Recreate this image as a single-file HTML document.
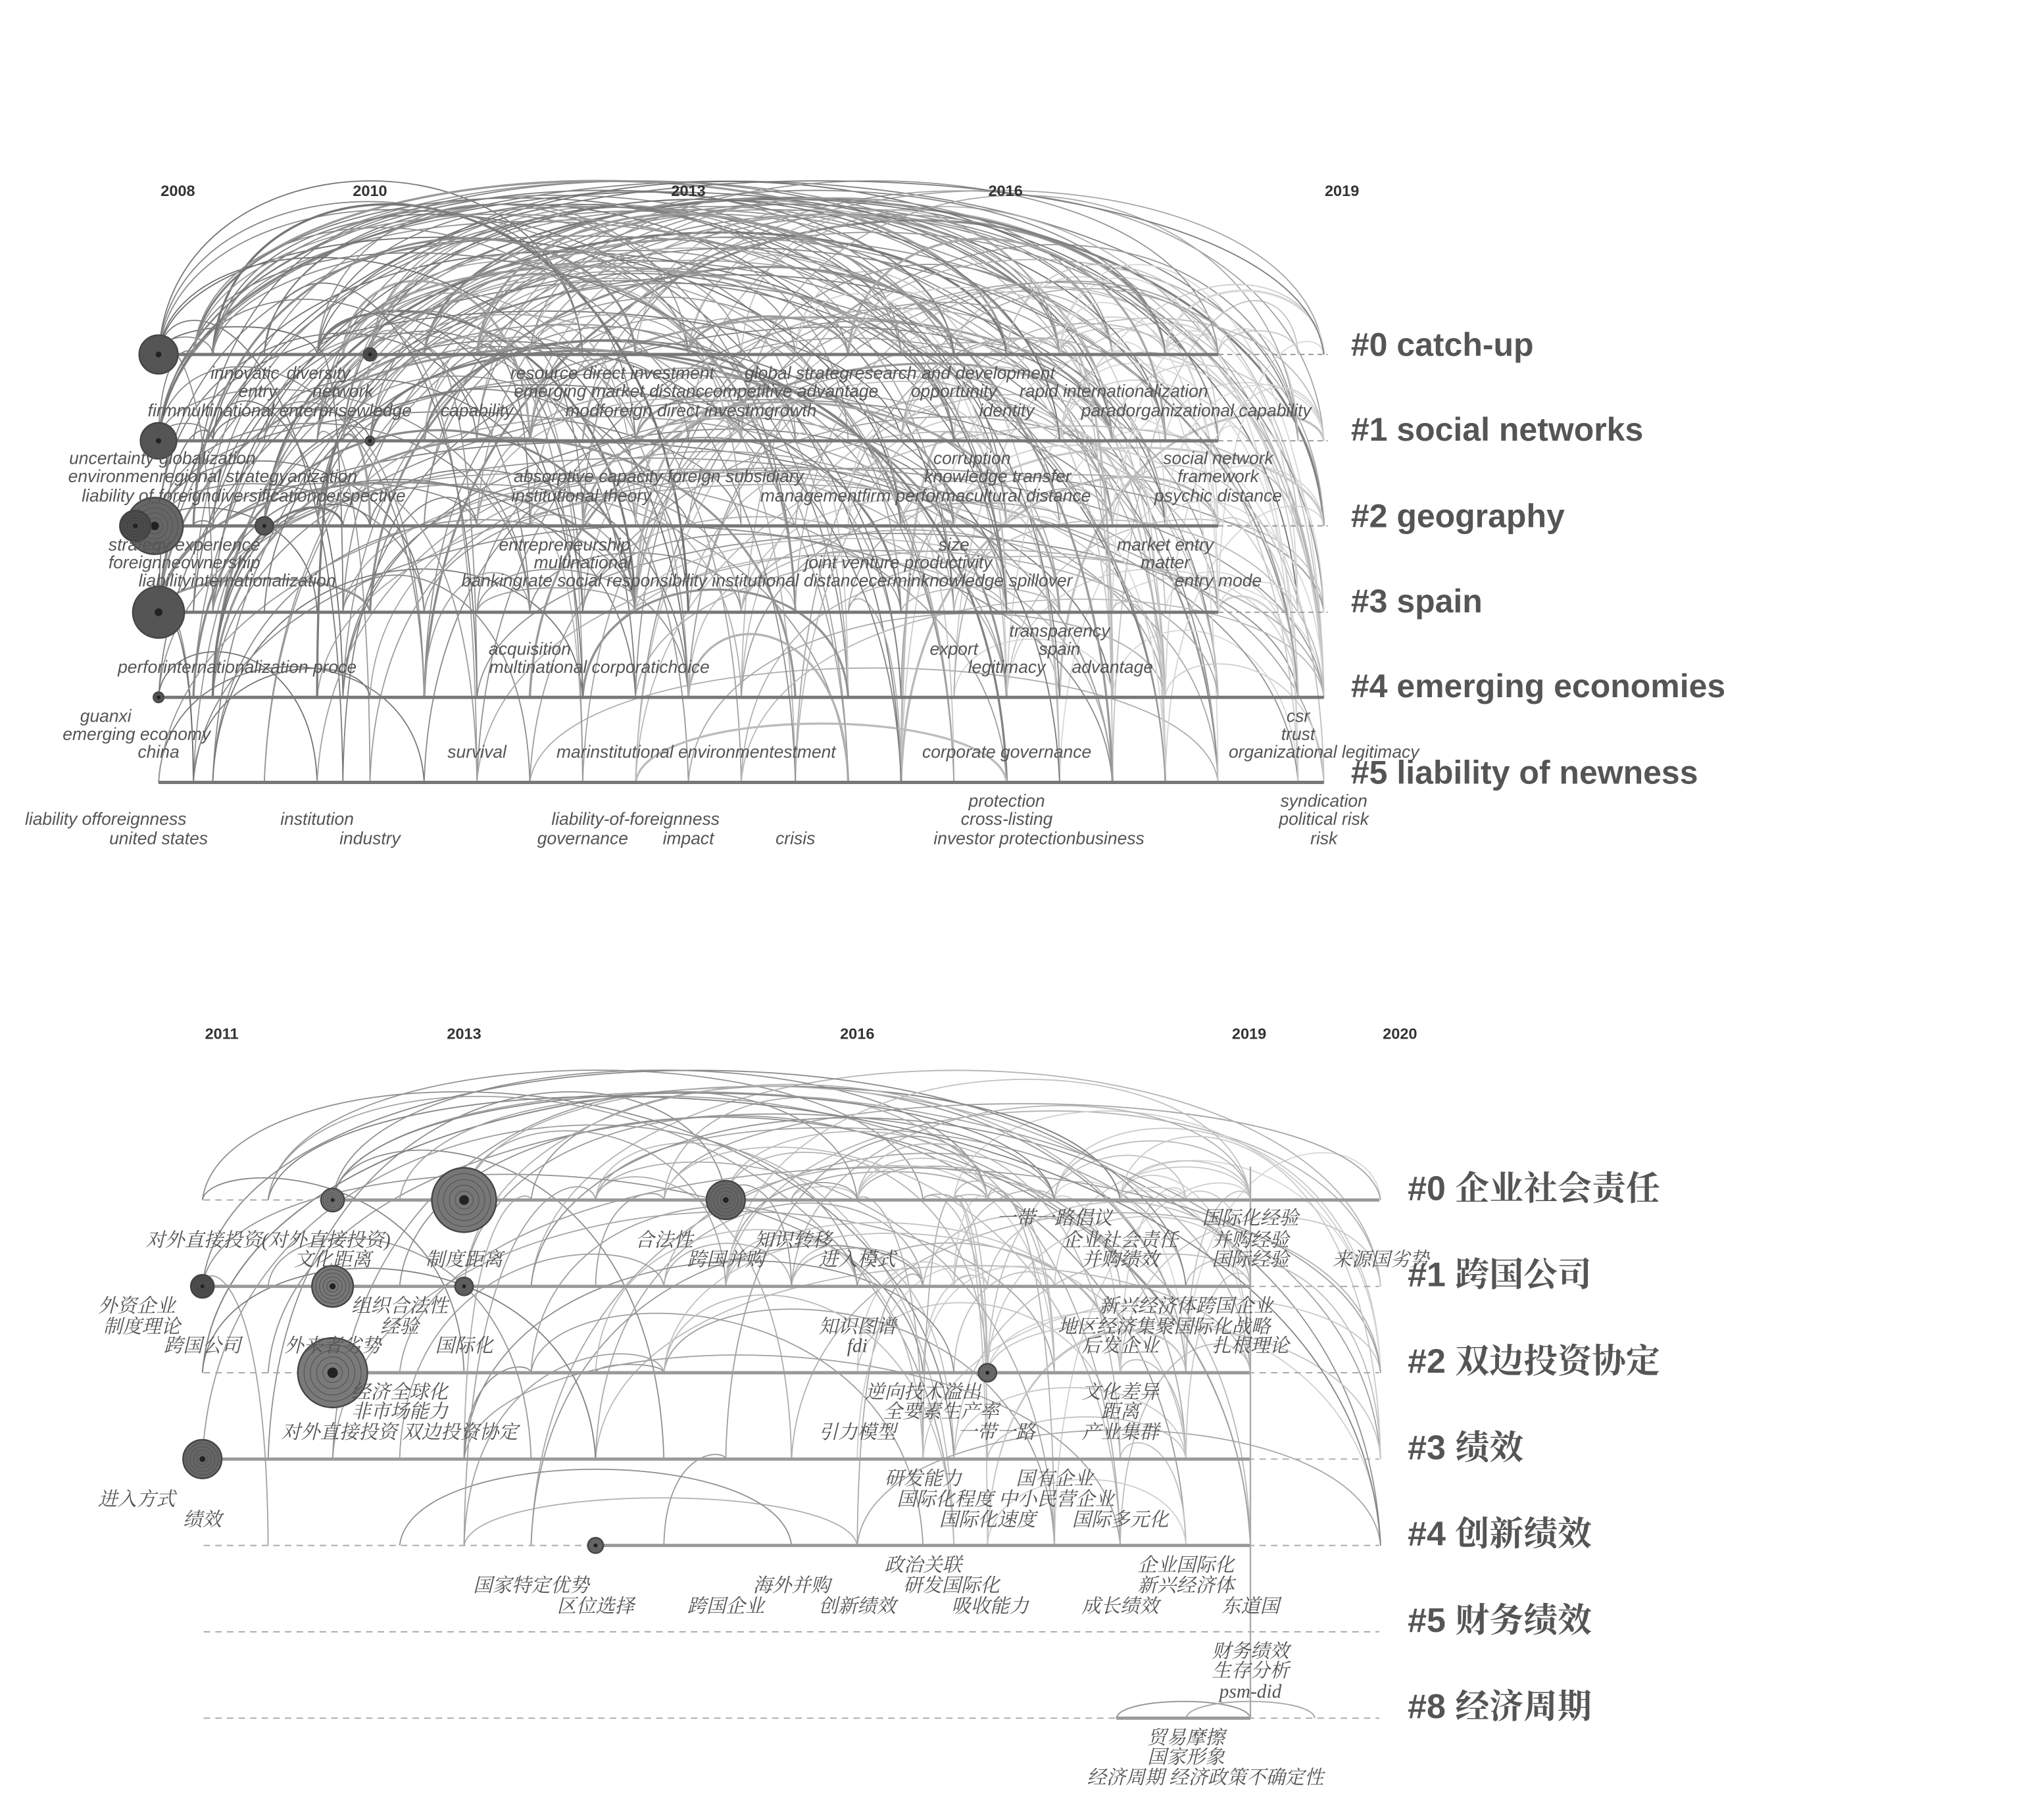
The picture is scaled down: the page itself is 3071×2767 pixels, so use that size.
<!DOCTYPE html>
<html><head><meta charset="utf-8">
<style>
html,body{margin:0;padding:0;background:#fff;}
svg{display:block;}
.y{font-family:"Liberation Sans",sans-serif;font-weight:bold;font-size:12px;fill:#333;text-anchor:middle;}
.t{font-family:"Liberation Sans",sans-serif;font-style:italic;font-size:13.5px;fill:#555;text-anchor:middle;}
.c{font-family:"Liberation Serif","Noto Serif CJK SC",serif;font-style:italic;font-size:15px;fill:#555;text-anchor:middle;}
.L{font-family:"Liberation Sans",sans-serif;font-weight:bold;font-size:25.5px;fill:#555;}
.LC{font-family:"Liberation Sans","Noto Serif CJK SC",serif;font-weight:bold;font-size:26.5px;fill:#555;}
</style></head>
<body>
<svg id="s" width="3071" height="2767" viewBox="0 0 1567 1412" preserveAspectRatio="none" xmlns="http://www.w3.org/2000/svg">
<g id="arcs" fill="none"></g>
<g stroke="#777" stroke-width="2.5">
<line x1="123" y1="275" x2="945" y2="275"/>
<line x1="123" y1="342" x2="945" y2="342"/>
<line x1="123" y1="408" x2="945" y2="408"/>
<line x1="123" y1="475" x2="945" y2="475"/>
<line x1="123" y1="541" x2="1027" y2="541"/>
<line x1="123" y1="607" x2="1027" y2="607"/>
</g>
<g stroke="#999" stroke-width="1" stroke-dasharray="4,3">
<line x1="945" y1="275" x2="1030" y2="275"/>
<line x1="945" y1="342" x2="1030" y2="342"/>
<line x1="945" y1="408" x2="1030" y2="408"/>
<line x1="945" y1="475" x2="1030" y2="475"/>
</g>
<g stroke="#aaa" stroke-width="1" stroke-dasharray="5,4">
<line x1="158" y1="931" x2="1070" y2="931"/>
<line x1="158" y1="998" x2="1070" y2="998"/>
<line x1="158" y1="1065" x2="1070" y2="1065"/>
<line x1="158" y1="1132" x2="1070" y2="1132"/>
<line x1="158" y1="1199" x2="1070" y2="1199"/>
<line x1="158" y1="1266" x2="1070" y2="1266"/>
<line x1="158" y1="1333" x2="1070" y2="1333"/>
</g>
<g stroke="#999" stroke-width="2.5">
<line x1="258" y1="931" x2="1070" y2="931"/>
<line x1="157" y1="998" x2="970" y2="998"/>
<line x1="258" y1="1065" x2="970" y2="1065"/>
<line x1="157" y1="1132" x2="970" y2="1132"/>
<line x1="462" y1="1199" x2="970" y2="1199"/>
<line x1="866" y1="1333" x2="970" y2="1333"/>
</g>
<line x1="970" y1="905" x2="970" y2="1333" stroke="#aaa" stroke-width="1.2"/>
<g id="nodes"></g>
<text class="y" x="138" y="152">2008</text><text class="y" x="287" y="152">2010</text><text class="y" x="534" y="152">2013</text><text class="y" x="780" y="152">2016</text><text class="y" x="1041" y="152">2019</text>
<text class="y" x="172" y="806">2011</text><text class="y" x="360" y="806">2013</text><text class="y" x="665" y="806">2016</text><text class="y" x="969" y="806">2019</text><text class="y" x="1086" y="806">2020</text>
<text class="L" x="1048" y="276">#0 catch-up</text>
<text class="L" x="1048" y="342">#1 social networks</text>
<text class="L" x="1048" y="409">#2 geography</text>
<text class="L" x="1048" y="475">#3 spain</text>
<text class="L" x="1048" y="541">#4 emerging economies</text>
<text class="L" x="1048" y="608">#5 liability of newness</text>
<text class="LC" x="1092" y="931">#0 企业社会责任</text>
<text class="LC" x="1092" y="998">#1 跨国公司</text>
<text class="LC" x="1092" y="1065">#2 双边投资协定</text>
<text class="LC" x="1092" y="1132">#3 绩效</text>
<text class="LC" x="1092" y="1199">#4 创新绩效</text>
<text class="LC" x="1092" y="1266">#5 财务绩效</text>
<text class="LC" x="1092" y="1333">#8 经济周期</text>
<g>
<text class="t" x="190" y="294">innovatic</text><text class="t" x="247" y="294">diversity</text>
<text class="t" x="200" y="308">entry</text><text class="t" x="266" y="308">network</text>
<text class="t" x="217" y="323">firmmultinational enterprisewledge</text><text class="t" x="370" y="323">capability</text>
<text class="t" x="475" y="294">resource direct investment</text><text class="t" x="698" y="294">global strategresearch and development</text>
<text class="t" x="540" y="308">emerging market distanccompetitive advantage</text><text class="t" x="740" y="308">opportunity</text><text class="t" x="864" y="308">rapid internationalization</text>
<text class="t" x="536" y="323">modforeign direct investmgrowth</text><text class="t" x="781" y="323">identity</text><text class="t" x="928" y="323">paradorganizational capability</text>
<text class="t" x="126" y="360">uncertainty globalization</text><text class="t" x="165" y="374">environmenregional strategyanization</text><text class="t" x="189" y="389">liability of foreigndiversificationperspective</text>
<text class="t" x="511" y="374">absorptive capacity foreign subsidiary</text><text class="t" x="451" y="389">institutional theory</text>
<text class="t" x="754" y="360">corruption</text><text class="t" x="774" y="374">knowledge transfer</text><text class="t" x="718" y="389">managementfirm performacultural distance</text>
<text class="t" x="945" y="360">social network</text><text class="t" x="945" y="374">framework</text><text class="t" x="945" y="389">psychic distance</text>
<text class="t" x="143" y="427">strategy experience</text><text class="t" x="143" y="441">foreignneownership</text><text class="t" x="184" y="455">liabilityinternationalization</text>
<text class="t" x="438" y="427">entrepreneurship</text><text class="t" x="452" y="441">multinational</text>
<text class="t" x="595" y="455">bankingrate social responsibility institutional distancecerminknowledge spillover</text>
<text class="t" x="740" y="427">size</text><text class="t" x="697" y="441">joint venture productivity</text>
<text class="t" x="904" y="427">market entry</text><text class="t" x="904" y="441">matter</text><text class="t" x="945" y="455">entry mode</text>
<text class="t" x="184" y="522">perforinternationalization proce</text><text class="t" x="411" y="508">acquisition</text><text class="t" x="465" y="522">multinational corporatichoice</text>
<text class="t" x="822" y="494">transparency</text><text class="t" x="740" y="508">export</text><text class="t" x="822" y="508">spain</text><text class="t" x="781" y="522">legitimacy</text><text class="t" x="863" y="522">advantage</text>
<text class="t" x="82" y="560">guanxi</text><text class="t" x="106" y="574">emerging economy</text><text class="t" x="123" y="588">china</text>
<text class="t" x="370" y="588">survival</text><text class="t" x="540" y="588">marinstitutional environmentestment</text><text class="t" x="781" y="588">corporate governance</text>
<text class="t" x="1007" y="560">csr</text><text class="t" x="1007" y="574">trust</text><text class="t" x="1027" y="588">organizational legitimacy</text>
<text class="t" x="82" y="640">liability offoreignness</text><text class="t" x="123" y="655">united states</text>
<text class="t" x="246" y="640">institution</text><text class="t" x="287" y="655">industry</text>
<text class="t" x="493" y="640">liability-of-foreignness</text><text class="t" x="452" y="655">governance</text><text class="t" x="534" y="655">impact</text><text class="t" x="617" y="655">crisis</text>
<text class="t" x="781" y="626">protection</text><text class="t" x="781" y="640">cross-listing</text><text class="t" x="806" y="655">investor protectionbusiness</text>
<text class="t" x="1027" y="626">syndication</text><text class="t" x="1027" y="640">political risk</text><text class="t" x="1027" y="655">risk</text>
</g>
<g>
<text class="c" x="208" y="967">对外直接投资(对外直接投资)</text><text class="c" x="258" y="982">文化距离</text><text class="c" x="360" y="982">制度距离</text>
<text class="c" x="515" y="967">合法性</text><text class="c" x="615" y="967">知识转移</text><text class="c" x="563" y="982">跨国并购</text><text class="c" x="665" y="982">进入模式</text>
<text class="c" x="818" y="950">一带一路倡议</text><text class="c" x="869" y="967">企业社会责任</text><text class="c" x="869" y="982">并购绩效</text>
<text class="c" x="970" y="950">国际化经验</text><text class="c" x="970" y="967">并购经验</text><text class="c" x="970" y="982">国际经验</text><text class="c" x="1071" y="982">来源国劣势</text>
<text class="c" x="106" y="1018">外资企业</text><text class="c" x="110" y="1034">制度理论</text><text class="c" x="157" y="1049">跨国公司</text>
<text class="c" x="310" y="1018">组织合法性</text><text class="c" x="310" y="1034">经验</text><text class="c" x="258" y="1049">外来者劣势</text><text class="c" x="360" y="1049">国际化</text>
<text class="c" x="665" y="1034">知识图谱</text><text class="c" x="665" y="1049">fdi</text>
<text class="c" x="920" y="1018">新兴经济体跨国企业</text><text class="c" x="903" y="1034">地区经济集聚国际化战略</text><text class="c" x="869" y="1049">后发企业</text><text class="c" x="970" y="1049">扎根理论</text>
<text class="c" x="310" y="1085">经济全球化</text><text class="c" x="310" y="1100">非市场能力</text><text class="c" x="310" y="1116">对外直接投资 双边投资协定</text>
<text class="c" x="716" y="1085">逆向技术溢出</text><text class="c" x="730" y="1100">全要素生产率</text><text class="c" x="665" y="1116">引力模型</text><text class="c" x="773" y="1116">一带一路</text>
<text class="c" x="869" y="1085">文化差异</text><text class="c" x="869" y="1100">距离</text><text class="c" x="869" y="1116">产业集群</text>
<text class="c" x="106" y="1168">进入方式</text><text class="c" x="157" y="1184">绩效</text>
<text class="c" x="716" y="1152">研发能力</text><text class="c" x="818" y="1152">国有企业</text><text class="c" x="780" y="1168">国际化程度 中小民营企业</text><text class="c" x="766" y="1184">国际化速度</text><text class="c" x="869" y="1184">国际多元化</text>
<text class="c" x="412" y="1235">国家特定优势</text><text class="c" x="462" y="1251">区位选择</text><text class="c" x="614" y="1235">海外并购</text><text class="c" x="563" y="1251">跨国企业</text><text class="c" x="665" y="1251">创新绩效</text>
<text class="c" x="716" y="1219">政治关联</text><text class="c" x="738" y="1235">研发国际化</text><text class="c" x="768" y="1251">吸收能力</text>
<text class="c" x="920" y="1219">企业国际化</text><text class="c" x="920" y="1235">新兴经济体</text><text class="c" x="869" y="1251">成长绩效</text><text class="c" x="970" y="1251">东道国</text>
<text class="c" x="970" y="1286">财务绩效</text><text class="c" x="970" y="1301">生存分析</text><text class="c" x="970" y="1317">psm-did</text>
<text class="c" x="920" y="1353">贸易摩擦</text><text class="c" x="920" y="1368">国家形象</text><text class="c" x="935" y="1384">经济周期 经济政策不确定性</text>
</g>
<script>
(function(){
var NS="http://www.w3.org/2000/svg";
var g=document.getElementById("arcs"),nd=document.getElementById("nodes");
var seed=7;function r(){seed=(seed*16807)%2147483647;return seed/2147483647;}
function arc(x1,y1,x2,y2,top,col,w){
 var p=document.createElementNS(NS,"path");
 var h=Math.max(4,Math.min(y1,y2)-top);
 var m=Math.min(y1,y2);
 var d="M"+x1+" "+y1+" C"+(x1+(x2-x1)*0.03)+" "+(m-h*1.33)+" "+(x2-(x2-x1)*0.03)+" "+(m-h*1.33)+" "+x2+" "+y2;
 p.setAttribute("d",d);p.setAttribute("stroke",col);p.setAttribute("stroke-width",w);g.appendChild(p);
}
function gray(v){v=Math.round(Math.min(215,v));return "rgb("+v+","+v+","+v+")";}
var TX=[123,150,165,205,246,266,287,329,370,411,452,493,534,575,617,658,699,740,781,822,863,904,945,1007,1027];
var TY=[275,342,408,475,541,607];
for(var i=0;i<340;i++){
 var a=Math.floor(Math.pow(r(),1.5)*(TX.length-2)),b=a+1+Math.floor(r()*(TX.length-1-a));
 if(b>=TX.length)b=TX.length-1;
 var x1=TX[a],x2=TX[b];var y1=TY[Math.floor(Math.pow(r(),1.3)*6)],y2=TY[Math.floor(r()*6)];
 var span=x2-x1;var m=Math.min(y1,y2);
 var top=Math.max(140,m-span*(0.15+r()*0.3));
 var gv=105+(x1-100)/950*100+r()*45;
 arc(x1,y1,x2,y2,top,gray(gv),(r()<0.12?1.7:0.9));
}
var BX=[157,208,258,310,360,412,462,515,563,614,665,716,740,766,818,869,920,970,1071];
var BY=[931,998,1065,1132,1199];
for(var i=0;i<140;i++){
 var a=Math.floor(r()*(BX.length-2)),b=a+1+Math.floor(r()*(BX.length-1-a));if(b>=BX.length)b=BX.length-1;
 var x1=BX[a],x2=BX[b];var y1=BY[Math.floor(Math.pow(r(),1.4)*5)],y2=BY[Math.floor(r()*5)];
 var span=x2-x1;var m=Math.min(y1,y2);var top=Math.max(830,m-span*(0.12+r()*0.22));
 var gv=120+(x1-150)/900*80+r()*40;
 arc(x1,y1,x2,y2,top,gray(gv),0.9);
}
arc(866,1333,970,1333,1320,"#999",1);arc(920,1333,1020,1333,1320,"#aaa",1);
function node(x,y,R,c){
 for(var k=0;k<5;k++){var cc=document.createElementNS(NS,"circle");cc.setAttribute("cx",x);cc.setAttribute("cy",y);cc.setAttribute("r",R*(1-k*0.18));
 cc.setAttribute("fill",k==0?(c||"#666"):"none");cc.setAttribute("stroke",k==0?"#444":"#555");cc.setAttribute("stroke-width",k==0?1.2:0.6);nd.appendChild(cc);}
 var d=document.createElementNS(NS,"circle");d.setAttribute("cx",x);d.setAttribute("cy",y);d.setAttribute("r",Math.max(1.5,R*0.15));d.setAttribute("fill","#222");nd.appendChild(d);
}
node(123,275,15,"#555");node(123,342,14,"#555");node(120,408,22,"#666");node(105,408,12,"#444");node(123,475,20,"#555");
node(123,541,4,"#555");node(287,275,5,"#333");node(205,408,7,"#555");node(287,342,3.5,"#444");
node(258,931,9,"#777");node(360,931,25,"#777");node(563,931,15,"#666");node(157,998,9,"#444");node(258,998,16,"#777");node(360,998,7,"#666");
node(258,1065,27,"#7a7a7a");node(766,1065,7,"#777");node(157,1132,15,"#666");node(462,1199,6,"#777");
})();
</script>
</svg>
</body></html>
